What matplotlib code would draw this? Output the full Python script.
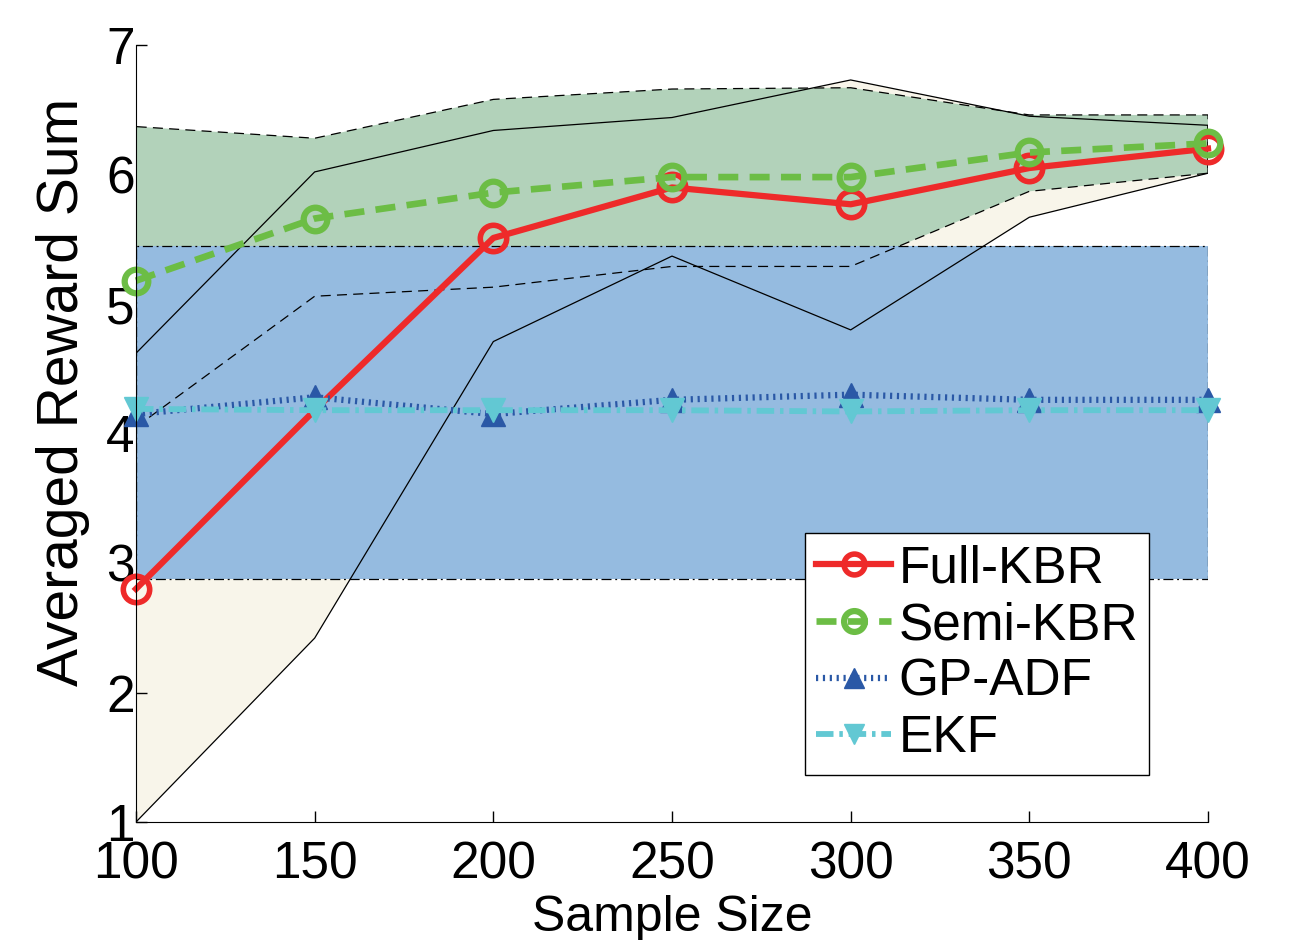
import matplotlib
matplotlib.use("Agg")
import matplotlib.pyplot as plt

plt.rcParams['font.family'] = ['Liberation Sans', 'DejaVu Sans']

# ---- data ----
sample_size = [100, 150, 200, 250, 300, 350, 400]

full_kbr = [2.80, 4.18, 5.51, 5.90, 5.77, 6.05, 6.20]
full_kbr_lower = [1.00, 2.42, 4.71, 5.37, 4.80, 5.67, 6.01]
full_kbr_upper = [4.62, 6.02, 6.34, 6.44, 6.73, 6.45, 6.38]

semi_kbr = [5.18, 5.66, 5.86, 5.98, 5.98, 6.17, 6.24]
semi_kbr_lower = [4.05, 5.06, 5.13, 5.29, 5.29, 5.87, 6.01]
semi_kbr_upper = [6.37, 6.28, 6.58, 6.66, 6.67, 6.46, 6.46]

gp_adf = [4.15, 4.28, 4.15, 4.26, 4.30, 4.26, 4.26]

ekf = [4.19, 4.18, 4.18, 4.18, 4.17, 4.18, 4.18]
ekf_lower = [2.88, 2.88, 2.88, 2.88, 2.88, 2.88, 2.88]
ekf_upper = [5.45, 5.45, 5.45, 5.45, 5.45, 5.45, 5.45]

labels = ['Full-KBR', 'Semi-KBR', 'GP-ADF', 'EKF']
xticks = [100, 150, 200, 250, 300, 350, 400]
yticks = [1, 2, 3, 4, 5, 6, 7]

# ---- styles ----
c_red = '#EE2A2A'
c_green = '#6CBD45'
c_blue = '#2A58A6'
c_cyan = '#62C8D3'
f_cream = '#F8F5EA'
f_green = '#B2D2BA'
f_blue = '#95BBE0'

fig = plt.figure(figsize=(12.91, 9.4), dpi=100)
ax = fig.add_axes([136/1291, 1-822/940, (1208-136)/1291, (822-45)/940])

def band(lower, upper, face, z):
    xs = list(sample_size) + list(sample_size[::-1])
    ys = list(lower) + list(upper[::-1])
    ax.fill(xs, ys, facecolor=face, edgecolor='none', zorder=z)
    return xs, ys

xs1, ys1 = band(full_kbr_lower, full_kbr_upper, f_cream, 1)
xs2, ys2 = band(semi_kbr_lower, semi_kbr_upper, f_green, 2)
xs3, ys3 = band(ekf_lower, ekf_upper, f_blue, 3)

# band outlines on top of fills
ax.plot(xs1 + [xs1[0]], ys1 + [ys1[0]], color='black', lw=0.9, ls='-', zorder=4)
ax.plot(xs2 + [xs2[0]], ys2 + [ys2[0]], color='black', lw=0.9, ls=(0, (8, 5)), zorder=4)
ax.plot(xs3 + [xs3[0]], ys3 + [ys3[0]], color='black', lw=0.9, ls=(0, (8, 3, 1.5, 3)), zorder=4)

# mean lines
ax.plot(sample_size, full_kbr, color=c_red, lw=4.5, marker='o', ms=19,
        markevery=[0, 2, 3, 4, 5, 6],
        mfc='none', mec=c_red, mew=4, zorder=5, label=labels[0], clip_on=False)
ax.plot(sample_size, semi_kbr, color=c_green, lw=4.8, ls=(0, (3.0, 1.7)), marker='o', ms=17,
        mfc='none', mec=c_green, mew=4.5, zorder=7, label=labels[1], clip_on=False)
ax.plot(sample_size, gp_adf, color=c_blue, lw=4.5, ls=(0, (0.35, 0.75)), marker='^', ms=17,
        mfc=c_blue, mec=c_blue, zorder=6, label=labels[2], clip_on=False)
ax.plot(sample_size, ekf, color=c_cyan, lw=4.2, ls=(0, (3, 1, 0.6, 1)), marker='v', ms=17,
        mfc=c_cyan, mec=c_cyan, zorder=6, label=labels[3], clip_on=False)

ax.set_xlim(100, 400)
ax.set_ylim(1, 7)
ax.set_xticks(xticks)
ax.set_yticks(yticks)
ax.set_xticklabels([str(t) for t in xticks], fontsize=37)
ax.set_yticklabels([str(t) for t in yticks], fontsize=37)
ax.tick_params(direction='in', length=8, width=1)
ax.tick_params(axis='x', pad=13)
ax.tick_params(axis='y', pad=1)
for s in ['top', 'right']:
    ax.spines[s].set_visible(False)
ax.spines['left'].set_zorder(8)
ax.spines['bottom'].set_zorder(8)
ax.patch.set_alpha(0)

ax.set_xlabel('Sample Size', fontsize=36)
ax.xaxis.set_label_coords(0.5, -(895 - 822) / 777)
ax.set_ylabel('Averaged Reward Sum', fontsize=41)
ax.yaxis.set_label_coords(-(136 - 90) / 1072, (822 - 392) / 777)

leg = ax.legend(loc='upper left', bbox_to_anchor=(805/1291, 1-533/940),
                bbox_transform=fig.transFigure, fontsize=37, frameon=True,
                fancybox=False, edgecolor='black', framealpha=1,
                handlelength=1.45, handletextpad=0.15, borderpad=0.22,
                labelspacing=0.15, borderaxespad=0)
leg.get_frame().set_linewidth(1.0)
leg.set_zorder(10)
for h in leg.get_lines():
    h.set_markersize(15)
    h.set_markevery([1])

fig.savefig('out.png', dpi=100)
